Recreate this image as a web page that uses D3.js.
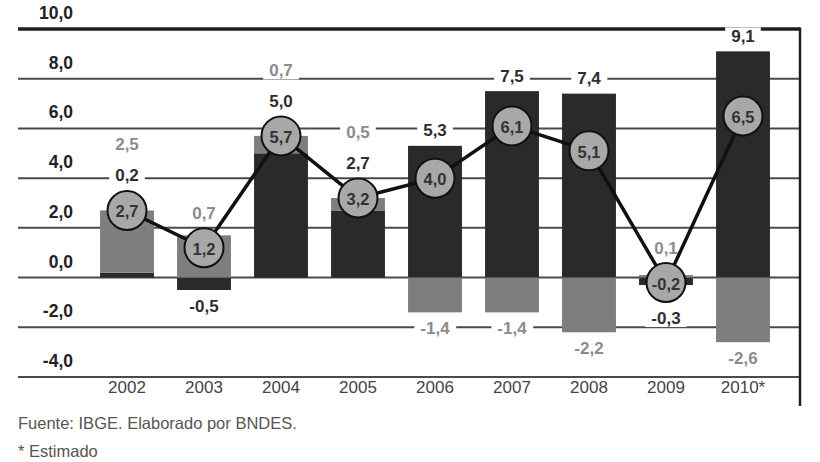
<!DOCTYPE html>
<html><head><meta charset="utf-8">
<script src="https://cdn.jsdelivr.net/npm/d3@7"></script>
<style>
html,body{margin:0;padding:0;background:#fff;}
svg{display:block;font-family:"Liberation Sans",Arial,Helvetica,sans-serif;}
</style></head>
<body>
<svg id="chart" width="820" height="462"></svg>
<script>
const years = ["2002","2003","2004","2005","2006","2007","2008","2009","2010*"];
const domestic = [0.2,-0.5,5.0,2.7,5.3,7.5,7.4,-0.3,9.1];
const external = [2.5,1.7,0.7,0.5,-1.4,-1.4,-2.2,0.1,-2.6];
const gdp = [2.7,1.2,5.7,3.2,4.0,6.1,5.1,-0.2,6.5];
const domesticLabels = ["0,2","-0,5","5,0","2,7","5,3","7,5","7,4","-0,3","9,1"];
const externalLabels = ["2,5","0,7","0,7","0,5","-1,4","-1,4","-2,2","0,1","-2,6"];
const gdpLabels = ["2,7","1,2","5,7","3,2","4,0","6,1","5,1","-0,2","6,5"];
const yTicks = [10,8,6,4,2,0,-2,-4];
const yTickLabels = ["10,0","8,0","6,0","4,0","2,0","0,0","-2,0","-4,0"];
const notes = ["Fuente: IBGE. Elaborado por BNDES.","* Estimado"];

const svg = d3.select("#chart");
const left = 18, right = 800;
const y = d3.scaleLinear().domain([-4,10]).range([377,29]);
const x = d3.scaleBand().domain(years).range([88.5,781.5]).paddingInner(0.3).paddingOuter(0.15);
const R = 19.5;
const darkC = "#2a2a2a", grayC = "#7e7e7e", circleC = "#a8a8a8";

// gridlines
svg.append("g").selectAll("line").data(yTicks).join("line")
  .attr("x1", left).attr("x2", right)
  .attr("y1", d => y(d)).attr("y2", d => y(d))
  .attr("stroke", d => d === 10 ? "#1e1e1e" : "#4a4a4a")
  .attr("stroke-width", d => d === 10 ? 3.5 : 2);
svg.append("line").attr("x1", right).attr("x2", right)
  .attr("y1", y(10)-1.5).attr("y2", 406)
  .attr("stroke", "#1e1e1e").attr("stroke-width", 2.5);

// tick labels
svg.append("g").selectAll("text").data(yTicks).join("text")
  .attr("x", 73).attr("y", d => y(d) - 16)
  .attr("text-anchor", "end").attr("dominant-baseline", "central")
  .attr("font-size", 17.5).attr("font-weight", "bold").attr("fill", "#222")
  .text((d,i) => yTickLabels[i]);

// stacked data
const table = years.map((yr,i) => ({year: yr, domestic: domestic[i], external: external[i]}));
const series = d3.stack().keys(["domestic","external"]).offset(d3.stackOffsetDiverging)(table);

// labels
const labelG = svg.append("g");
years.forEach((yr,i) => {
  const cx = x(yr) + x.bandwidth()/2;
  const items = [
    {v: domestic[i], t: domesticLabels[i], c: "#2e2e2e"},
    {v: external[i], t: externalLabels[i], c: "#8c8c8c"}
  ];
  const posTop = d3.max(series, s => s[i][1]);
  const negBot = d3.min(series, s => s[i][0]);
  const topY = Math.min(y(posTop), y(gdp[i]) - R);
  const botY = Math.max(y(negBot), y(gdp[i]) + R);
  let pk = 0, nk = 0;
  items.forEach(it => {
    let ly;
    if (it.v >= 0) { ly = topY - 15 - pk*31; pk++; }
    else { ly = botY + 16 + nk*31; nk++; }
    const g = labelG.append("g");
    const t = g.append("text").attr("x", cx).attr("y", ly)
      .attr("text-anchor","middle").attr("dominant-baseline","central")
      .attr("font-size", 17).attr("font-weight","bold").attr("fill", it.c)
      .text(it.t);
    const bb = t.node().getBBox();
    g.insert("rect","text").attr("x", bb.x - 6).attr("y", ly - 9)
      .attr("width", bb.width + 12).attr("height", 18).attr("fill","#fff");
  });
});

// bars
svg.append("g").selectAll("g").data(series).join("g")
  .attr("fill", d => d.key === "domestic" ? darkC : grayC)
  .selectAll("rect").data(d => d).join("rect")
  .attr("x", d => x(d.data.year))
  .attr("width", x.bandwidth())
  .attr("y", d => y(Math.max(d[0], d[1])))
  .attr("height", d => Math.abs(y(d[0]) - y(d[1])));

// gdp line
const pts = years.map((yr,i) => [x(yr) + x.bandwidth()/2, y(gdp[i])]);
svg.append("path").attr("d", d3.line()(pts))
  .attr("fill","none").attr("stroke","#111").attr("stroke-width",3.5);
const cg = svg.append("g").selectAll("g").data(pts).join("g");
cg.append("circle").attr("cx", d => d[0]).attr("cy", d => d[1]).attr("r", R)
  .attr("fill", circleC).attr("stroke","#111").attr("stroke-width",2);
cg.append("text").attr("x", d => d[0]).attr("y", d => d[1] + 1)
  .attr("text-anchor","middle").attr("dominant-baseline","central")
  .attr("font-size", 16.5).attr("font-weight","bold").attr("fill","#333")
  .text((d,i) => gdpLabels[i]);

// x axis labels
svg.append("g").selectAll("text").data(years).join("text")
  .attr("x", d => x(d) + x.bandwidth()/2).attr("y", 387)
  .attr("text-anchor","middle").attr("dominant-baseline","central")
  .attr("font-size", 17).attr("fill","#444")
  .text(d => d);

// notes
svg.append("g").selectAll("text").data(notes).join("text")
  .attr("x", 18).attr("y", (d,i) => 423 + i*28)
  .attr("dominant-baseline","central")
  .attr("font-size", 16.5).attr("fill","#555")
  .text(d => d);
</script>
</body></html>
